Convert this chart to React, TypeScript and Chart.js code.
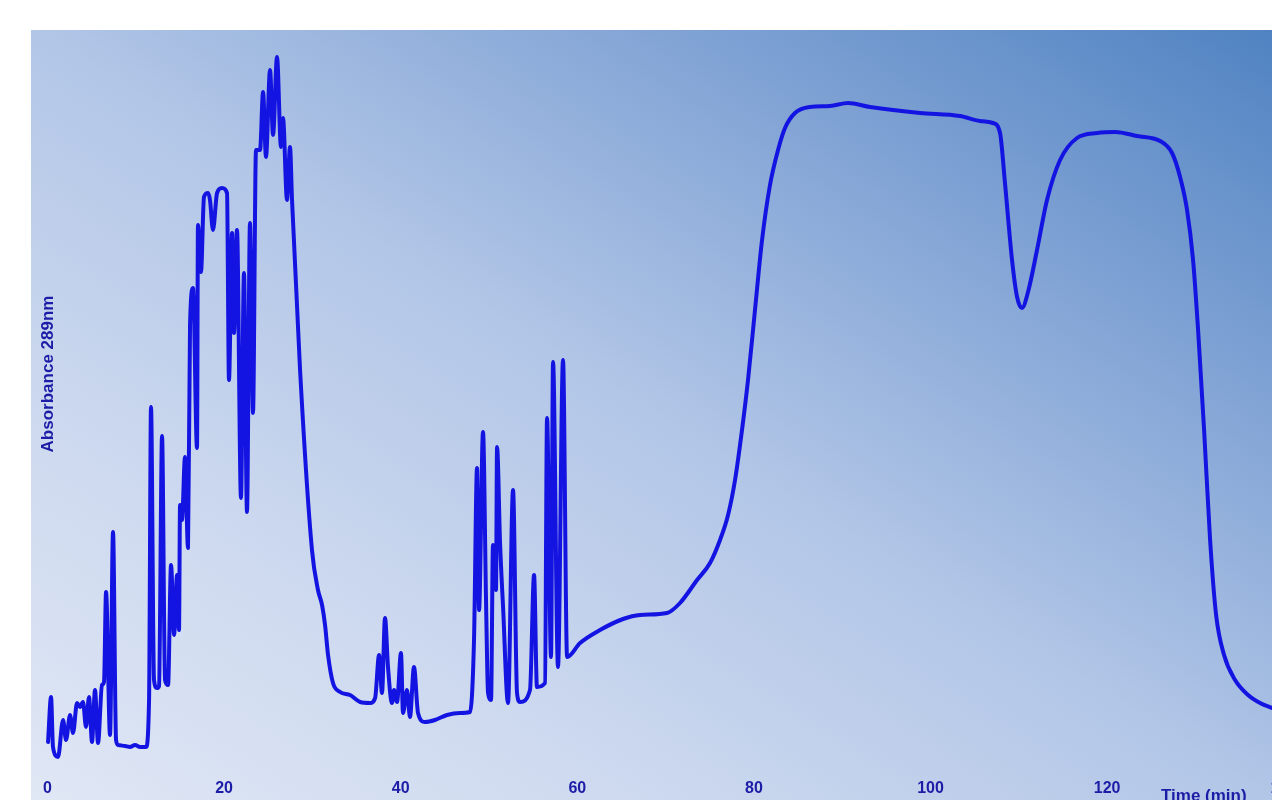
import React, { useEffect, useRef } from "react";
import { Chart, registerables } from "chart.js";

Chart.register(...registerables);

// Retention time (min)
const times: number[] = [
  0.06, 0.40, 0.62, 1.19, 1.76, 2.10, 2.55, 2.89, 3.34, 3.68, 4.02, 4.36, 4.70, 5.04, 5.38, 5.72,
  6.17, 6.40, 6.63, 7.08, 7.42, 7.76, 8.0, 8.78, 9.34, 9.91, 10.48, 11.15, 11.5, 11.72, 12.06,
  12.40, 12.63, 12.97, 13.31, 13.65, 13.99, 14.33, 14.67, 14.89, 15.01, 15.23, 15.57, 15.91,
  16.14, 16.48, 16.93, 17.04, 17.38, 17.72, 18.18, 18.4, 18.74, 19.2, 19.76, 20.33, 20.55, 20.9,
  21.12, 21.46, 21.91, 22.25, 22.59, 22.93, 23.27, 23.61, 24.07, 24.41, 24.74, 25.2, 25.54,
  25.99, 26.44, 26.67, 27.12, 27.46, 27.69, 28.6, 29.95, 30.63, 31.09, 31.43, 31.77, 32.33,
  33.13, 34.26, 35.4, 36.53, 37.1, 37.55, 37.88, 38.22, 38.56, 39.01, 39.24, 39.58, 40.03,
  40.26, 40.71, 41.05, 41.5, 41.96, 42.75, 43.88, 45.24, 46.71, 47.85, 48.3, 48.64, 48.87,
  49.32, 49.66, 49.89, 50.23, 50.45, 50.79, 50.91, 51.25, 51.59, 52.15, 52.72, 53.17, 53.51,
  54.64, 55.1, 55.43, 56.34, 56.57, 57.02, 57.25, 57.81, 58.38, 58.84, 60.31, 62.57, 65.18,
  67.1, 70.16, 71.63, 73.56, 75.03, 76.16, 77.07, 77.86, 78.65, 79.33, 80.12, 80.92, 81.82,
  82.73, 83.52, 84.65, 86.35, 88.62, 90.66, 93.15, 98.81, 103.34, 105.6, 107.08, 107.87,
  108.43, 109.23, 109.8, 110.36, 111.04, 112.06, 113.19, 114.67, 116.59, 118.86, 120.9,
  123.39, 125.99, 127.35, 128.26, 129.05, 129.73, 130.3, 130.98, 131.66, 132.34, 133.24,
  134.49, 135.96, 137.32, 138.67,
];

// Absorbance at 289 nm (mAU)
const absorbance: number[] = [
  28, 73, 23, 13, 50, 30, 55, 37, 67, 63, 68, 43, 73, 28, 80, 27,
  85, 88, 178, 35, 238, 30, 25, 24, 23, 25, 23, 23, 70, 363, 90,
  82, 84, 334, 90, 85, 205, 135, 195, 140, 265, 250, 313, 222,
  445, 482, 322, 545, 498, 573, 577, 570, 540, 577, 582, 577, 390, 537,
  437, 540, 272, 497, 258, 547, 357, 620, 620, 678, 613, 700, 635,
  713, 623, 652, 570, 623, 570, 400, 220, 180, 165, 145, 115, 87,
  78, 75, 68, 67, 72, 115, 77, 152, 103, 67, 80, 68, 117,
  57, 80, 53, 103, 57, 48, 50, 55, 57, 58, 130, 302, 160,
  338, 170, 77, 70, 225, 180, 323, 227, 163, 67, 280, 77, 68,
  80, 195, 83, 87, 352, 113, 408, 103, 410, 113, 127, 140, 151,
  155, 157, 167, 190, 207, 230, 255, 290, 340, 390, 460, 530, 585,
  620, 642, 657, 663, 664, 667, 663, 657, 654, 649, 647, 637,
  587, 510, 473, 462, 478, 520, 570, 610, 632, 637, 638,
  634, 629, 617, 593, 560, 510, 440, 340, 230, 155, 115,
  90, 75, 67, 62,
];

const xTickValues: number[] = [0, 20, 40, 60, 80, 100, 120, 140];
const xAxisTitle = "Time (min)";
const yAxisTitle = "Absorbance 289nm";

const TEXT_BLUE = "#1c1ca6";
const FONT_FAMILY = "'Liberation Sans', Arial, sans-serif";

const backgroundPlugin = {
  id: "panelBackground",
  beforeDraw(chart: any) {
    const { ctx, chartArea } = chart;
    const left = chartArea.left;
    const top = chartArea.top;
    const w = chart.width - left;
    const h = chart.height - top;
    ctx.save();
    ctx.fillStyle = "#ffffff";
    ctx.fillRect(0, 0, chart.width, chart.height);
    ctx.translate(left, top);
    ctx.scale(w, h);
    const g = ctx.createLinearGradient(1, 0, 0, 1);
    g.addColorStop(0, "#5083c2");
    g.addColorStop(0.25, "#82a4d5");
    g.addColorStop(0.5, "#b2c6e7");
    g.addColorStop(0.75, "#cdd9ef");
    g.addColorStop(1, "#e0e7f5");
    ctx.fillStyle = g;
    ctx.fillRect(0, 0, 1, 1);
    ctx.restore();
  },
  afterDraw(chart: any) {
    const { ctx } = chart;
    ctx.save();
    ctx.fillStyle = TEXT_BLUE;
    ctx.font = `bold 17px ${FONT_FAMILY}`;
    ctx.textAlign = "left";
    ctx.textBaseline = "alphabetic";
    ctx.fillText(xAxisTitle, 1161, 801);
    ctx.translate(53, 374);
    ctx.rotate(-Math.PI / 2);
    ctx.font = `bold 17px ${FONT_FAMILY}`;
    ctx.textAlign = "center";
    ctx.textBaseline = "alphabetic";
    ctx.fillText(yAxisTitle, 0, 0);
    ctx.restore();
  },
};

export default function App() {
  const canvasRef = useRef<HTMLCanvasElement | null>(null);

  useEffect(() => {
    const canvas = canvasRef.current;
    if (!canvas) return;
    const chart = new Chart(canvas, {
      type: "line",
      data: {
        datasets: [
          {
            data: times.map((t, i) => ({ x: t, y: absorbance[i] })),
            borderColor: "#1414e2",
            borderWidth: 4,
            pointRadius: 0,
            fill: false,
            cubicInterpolationMode: "monotone",
            borderJoinStyle: "round",
            borderCapStyle: "round",
          },
        ],
      },
      options: {
        animation: false,
        responsive: false,
        maintainAspectRatio: false,
        layout: { autoPadding: false, padding: { left: 31, top: 30, right: 0, bottom: 0 } },
        plugins: { legend: { display: false }, tooltip: { enabled: false }, title: { display: false } },
        scales: {
          x: {
            type: "linear",
            min: -1.87,
            max: 138.67,
            grid: { display: false, drawTicks: false },
            border: { display: false },
            afterBuildTicks(scale: any) {
              scale.ticks = xTickValues.map((v) => ({ value: v }));
            },
            afterFit(scale: any) {
              scale.height = 30;
              scale.paddingLeft = 0;
              scale.paddingRight = 0;
            },
            ticks: {
              autoSkip: false,
              maxRotation: 0,
              padding: 9,
              color: TEXT_BLUE,
              font: { family: FONT_FAMILY, size: 16, weight: "bold" },
            },
          },
          y: {
            display: false,
            min: 0,
            max: 740,
          },
        },
      },
      plugins: [backgroundPlugin],
    });
    return () => chart.destroy();
  }, []);

  return (
    <div style={{ position: "absolute", left: 0, top: 0, width: 1272, height: 800, overflow: "hidden" }}>
      <canvas ref={canvasRef} width={1272} height={800} style={{ display: "block" }} />
    </div>
  );
}
